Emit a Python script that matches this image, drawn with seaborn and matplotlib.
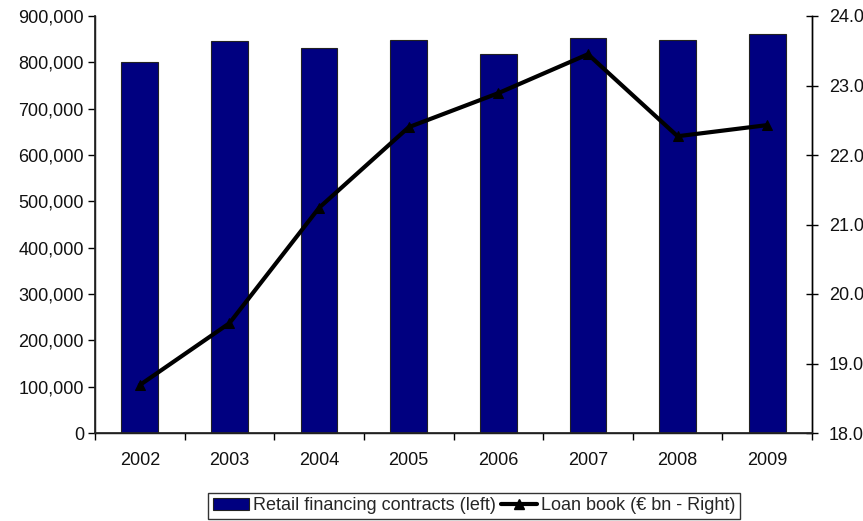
import matplotlib
matplotlib.use("Agg")
import matplotlib.pyplot as plt
import seaborn as sns
import numpy as np
import pandas as pd
from matplotlib.ticker import FuncFormatter, MultipleLocator, FixedLocator, NullFormatter
from matplotlib.lines import Line2D
from matplotlib.patches import Patch

years = ["2002", "2003", "2004", "2005", "2006", "2007", "2008", "2009"]
contracts = [800000, 846000, 831000, 848000, 818000, 852000, 848000, 861000]
loan_book = [18.69, 19.58, 21.24, 22.40, 22.89, 23.45, 22.27, 22.43]
bar_label = "Retail financing contracts (left)"
line_label = "Loan book (€ bn - Right)"

sns.set_theme(style="white")
plt.rcParams['font.family'] = ['Liberation Sans', 'DejaVu Sans']
FS = 13

fig = plt.figure(figsize=(8.63, 5.21), dpi=100)
ax = fig.add_axes([95/863, 1-433/521, (812-95)/863, (433-16)/521])

df = pd.DataFrame({"year": years, "contracts": contracts, "loan": loan_book})
sns.barplot(data=df, x="year", y="contracts", ax=ax, color="#000080",
            saturation=1, width=0.41, edgecolor="#222222", linewidth=0.8)
ax.set_xlim(-0.5, 7.5)
ax.set_ylim(0, 900000)
ax.yaxis.set_major_locator(MultipleLocator(100000))
ax.yaxis.set_major_formatter(FuncFormatter(lambda v, p: f"{int(v):,}"))
ax.set_xlabel("")
ax.set_ylabel("")
ax.tick_params(axis="y", direction="out", length=5, width=1, color="black",
               labelsize=FS, pad=3, left=True, labelcolor="#111111")
ax.xaxis.set_major_locator(FixedLocator(np.arange(8)))
ax.xaxis.set_minor_locator(FixedLocator(np.arange(-0.5, 8.0, 1.0)))
ax.xaxis.set_minor_formatter(NullFormatter())
ax.set_xticklabels(years)
ax.tick_params(axis="x", which="major", length=0, labelsize=FS, pad=14,
               labelcolor="#111111")
ax.tick_params(axis="x", which="minor", direction="out", length=5, width=1,
               color="black", bottom=True)
ax.spines["top"].set_visible(False)
for s in ["left", "bottom", "right"]:
    ax.spines[s].set_visible(True)
    ax.spines[s].set_color("black")
    ax.spines[s].set_linewidth(1)

ax2 = ax.twinx()
sns.lineplot(x=np.arange(len(years)), y=df["loan"], ax=ax2, color="black",
             linewidth=3, marker="^", markersize=7, markeredgecolor="black")
ax2.set_ylim(18.0, 24.0)
ax2.yaxis.set_major_locator(MultipleLocator(1.0))
ax2.yaxis.set_major_formatter(FuncFormatter(lambda v, p: f"{v:.1f}"))
ax2.set_ylabel("")
ax2.tick_params(axis="y", direction="inout", length=8, width=1, color="black",
                labelsize=FS, pad=8, right=True, labelcolor="#111111")
ax2.spines["top"].set_visible(False)
ax2.spines["right"].set_color("black")
ax2.spines["right"].set_linewidth(1)
ax2.set_xlim(-0.5, 7.5)

handles = [Patch(facecolor="#000080", edgecolor="#222222", linewidth=0.8),
           Line2D([0], [0], color="black", linewidth=3, marker="^", markersize=7)]
leg = fig.legend(handles, [bar_label, line_label], loc="center",
                 bbox_to_anchor=(474/863, 1-506/521), ncol=2, frameon=True,
                 fancybox=False, edgecolor="black", fontsize=FS,
                 handlelength=2.0, handleheight=0.6, handletextpad=0.2,
                 columnspacing=0.3, borderpad=0.25, borderaxespad=0)
leg.get_frame().set_linewidth(1)

fig.savefig("out.png", dpi=100)
